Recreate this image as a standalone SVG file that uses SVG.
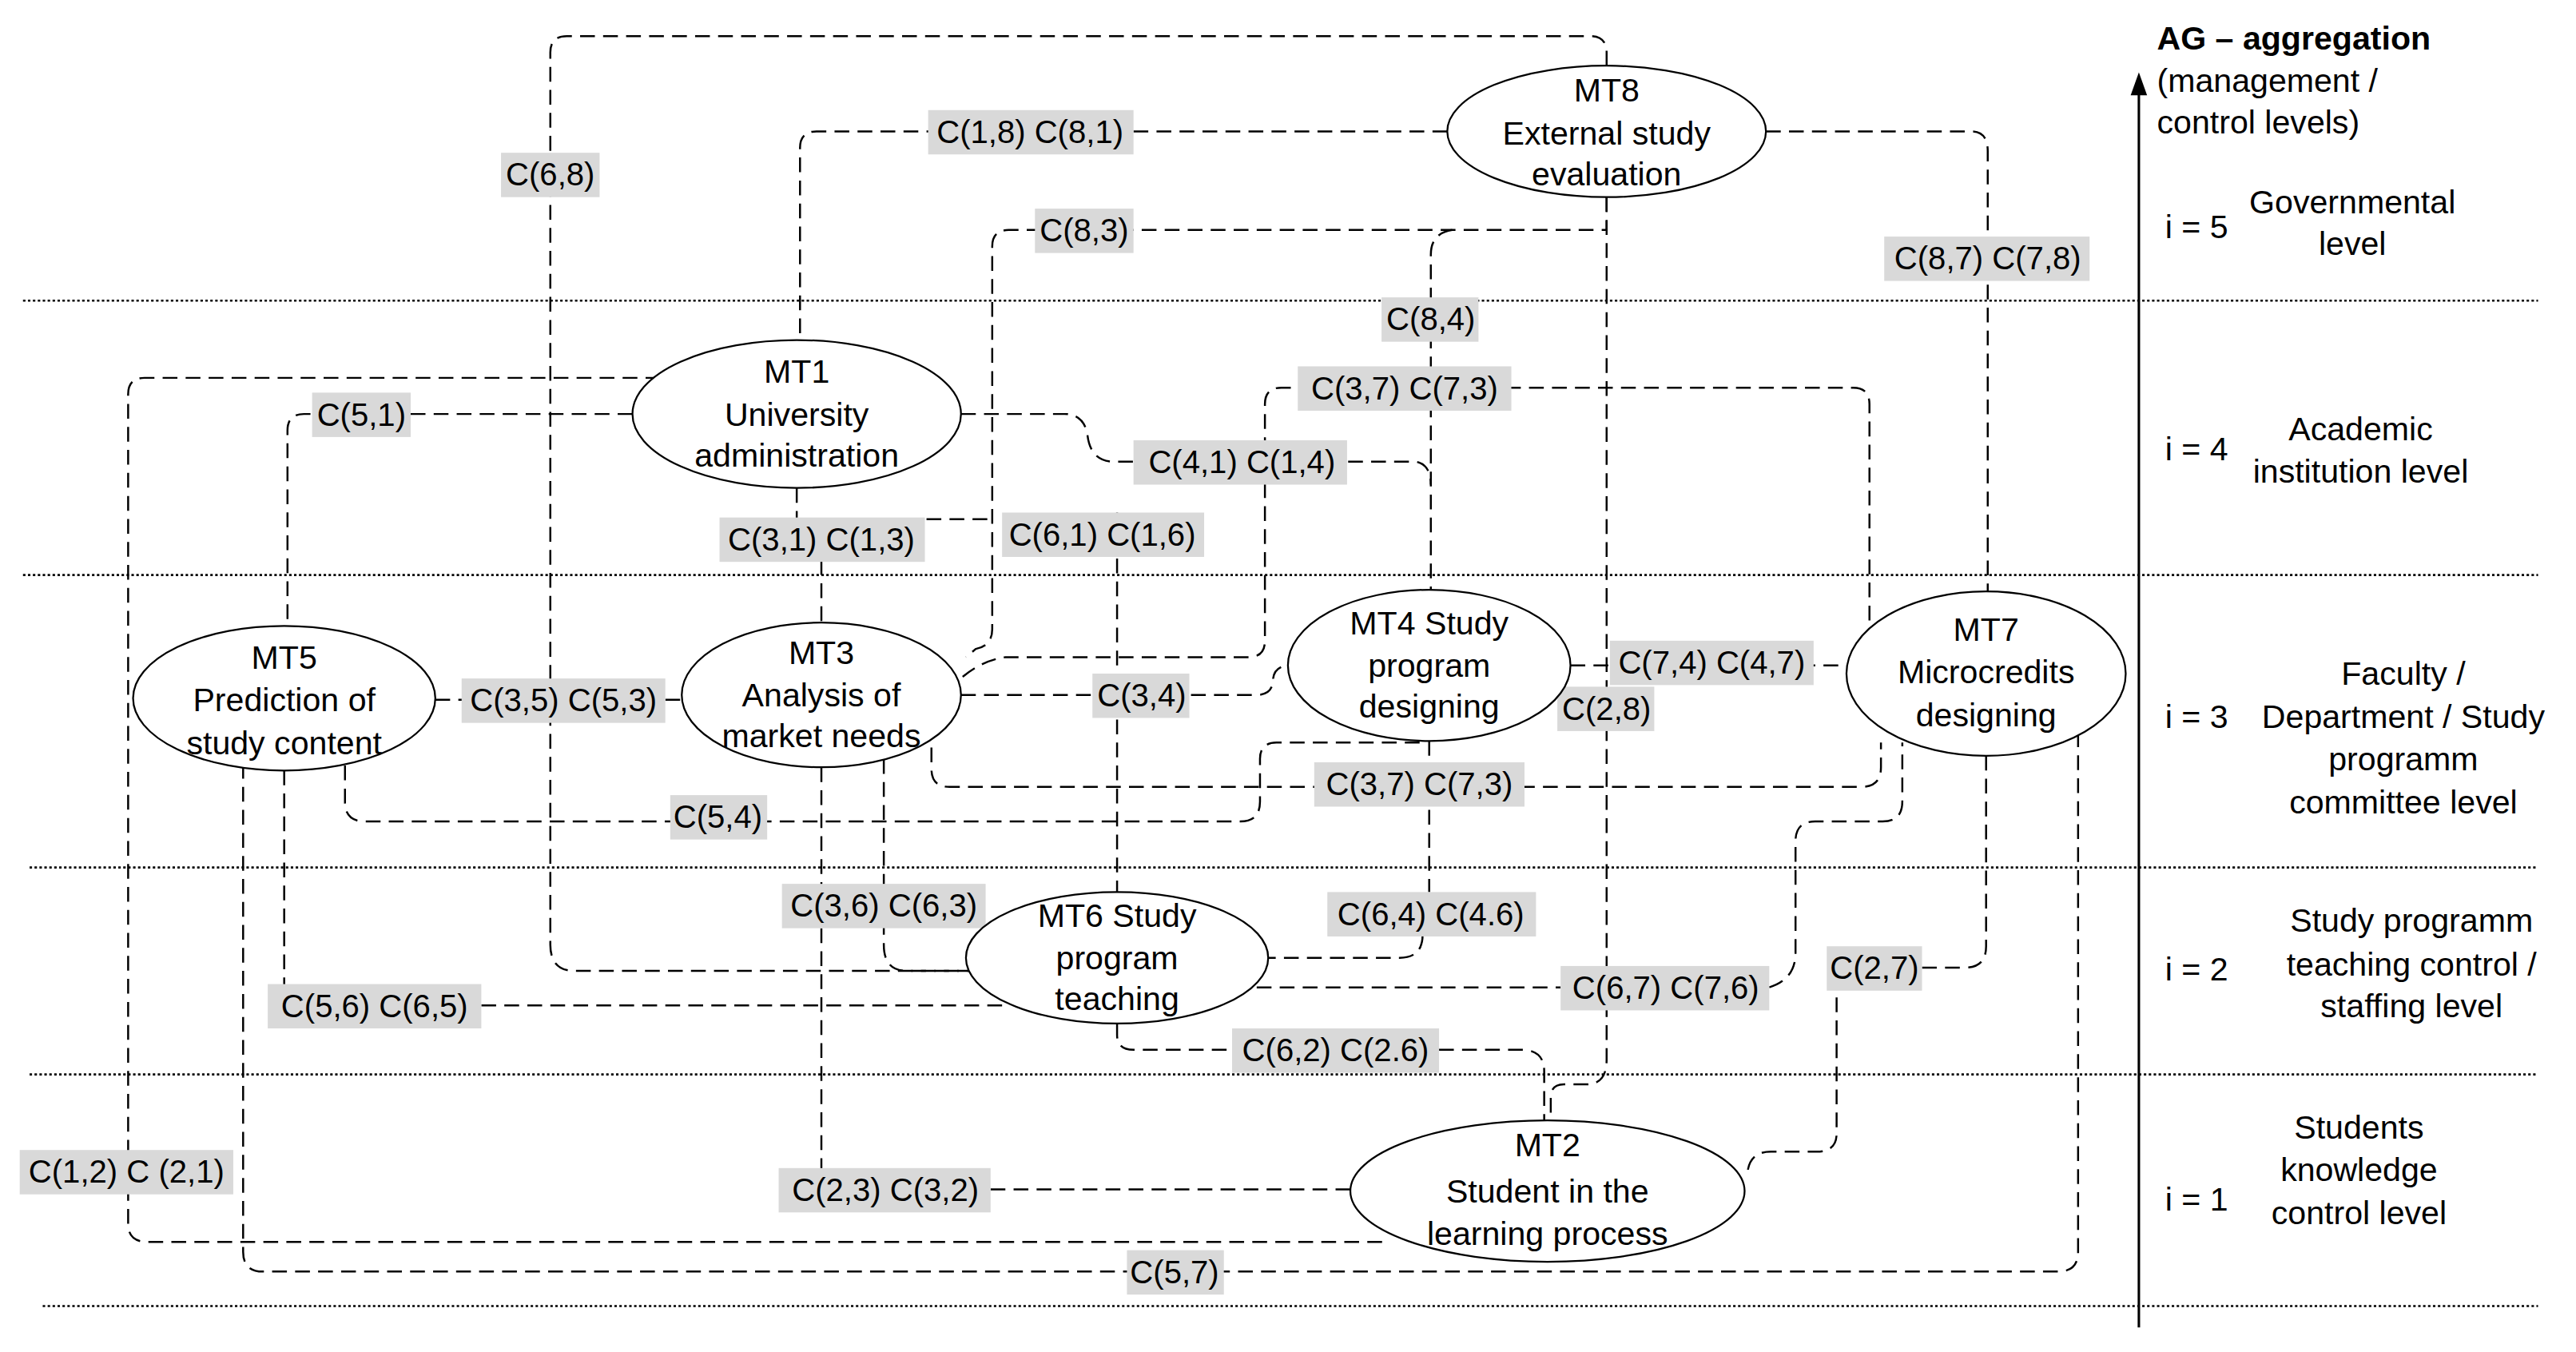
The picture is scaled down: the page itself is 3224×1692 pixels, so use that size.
<svg xmlns="http://www.w3.org/2000/svg" width="3224" height="1692" viewBox="0 0 3224 1692">
<style>
text{font-family:"Liberation Sans Narrow","Liberation Sans",Arial,sans-serif;font-size:20px;fill:#000;text-anchor:middle}
.l{font-size:19.5px}
.bg{fill:#d9d9d9}
.e{fill:#fff;stroke:#000;stroke-width:1.1}
.c{fill:none;stroke:#000;stroke-width:1.2;stroke-dasharray:9 5}
.lev{fill:none;stroke:#000;stroke-width:1.3;stroke-dasharray:1.5 1.5}
.st{text-anchor:start}
</style>
<defs><marker id="ar" viewBox="0 0 10 10" refX="5" refY="0" markerWidth="10" markerHeight="12" orient="auto-start-reverse" markerUnits="userSpaceOnUse"><path d="M0,0 L5,-14 L10,0 Z" transform="translate(0,10)"/></marker></defs>
<rect width="3224" height="1692" fill="#fff"/>
<g transform="scale(2.056)">
<g id="levels">
<path class="lev" d="M14,183H1545M14,350H1545M18,528H1545M18,654H1545M26,795H1545"/>
<line x1="1302" y1="56" x2="1302" y2="808" stroke="#000" stroke-width="1.5"/>
<path d="M1302,44L1297,58L1307,58Z"/>
<text class="st" x="1313" y="30" style="font-weight:bold">AG – aggregation</text>
<text class="st" x="1313" y="56">(management /</text>
<text class="st" x="1313" y="81">control levels)</text>
<text class="st" x="1318" y="145">i = 5</text>
<text x="1432" y="130">Governmental</text><text x="1432" y="155">level</text>
<text class="st" x="1318" y="280">i = 4</text>
<text x="1437" y="268">Academic</text><text x="1437" y="294">institution level</text>
<text class="st" x="1318" y="443">i = 3</text>
<text x="1463" y="417">Faculty /</text><text x="1463" y="443">Department / Study</text><text x="1463" y="469">programm</text><text x="1463" y="495">committee level</text>
<text class="st" x="1318" y="597">i = 2</text>
<text x="1468" y="567">Study programm</text><text x="1468" y="594">teaching control /</text><text x="1468" y="619">staffing level</text>
<text class="st" x="1318" y="737">i = 1</text>
<text x="1436" y="693">Students</text><text x="1436" y="719">knowledge</text><text x="1436" y="745">control level</text>
</g>
<g id="connectors">
<path class="c" d="M978,40V32Q978,22 968,22H345Q335,22 335,32V575Q335,591 350,591H592"/>
<path class="c" d="M881,80H497Q487,80 487,90V207"/>
<path class="c" d="M978,120V140H614Q604,140 604,150V383Q604,393 594,395L588,400"/>
<path class="c" d="M884,140Q871,142 871,155V359"/>
<path class="c" d="M1075,80H1200Q1210,80 1210,92V360"/>
<path class="c" d="M978,120V645Q978,660 966,660H952Q944,660 944,668V682"/>
<path class="c" d="M586,412Q598,402 612,400H760Q770,400 770,390V246Q770,236 780,236H1128Q1138,236 1138,246V385"/>
<path class="c" d="M385,252H185Q175,252 175,262V381"/>
<path class="c" d="M402,230H88Q78,230 78,240V745Q78,756 90,756H842"/>
<path class="c" d="M585,252H648Q660,252 662,265Q664,281 678,281H862Q871,283 871,295"/>
<path class="c" d="M485,297V316H604"/>
<path class="c" d="M500,341V379"/>
<path class="c" d="M680,312V543"/>
<path class="c" d="M265,426H415"/>
<path class="c" d="M585,423H765Q775,423 775,413Q776,405 786,405"/>
<path class="c" d="M956,405H1124"/>
<path class="c" d="M567,455V468Q567,479 578,479H1133Q1145,479 1145,467V452"/>
<path class="c" d="M210,466V488Q210,500 222,500H755Q767,500 767,488V462Q767,452 777,452H868"/>
<path class="c" d="M538,462V575Q538,591 552,591H592"/>
<path class="c" d="M500,467V712"/>
<path class="c" d="M603,724H822"/>
<path class="c" d="M173,469V600Q173,612 180,612"/>
<path class="c" d="M293,612H615"/>
<path class="c" d="M148,465V762Q148,774 160,774H1253Q1265,774 1265,762V448"/>
<path class="c" d="M870,451V543"/>
<path class="c" d="M866,569Q866,583 852,583H772"/>
<path class="c" d="M765,601H950"/>
<path class="c" d="M1077,601Q1093,596 1093,580V512Q1093,500 1105,500H1146Q1158,500 1158,488V452"/>
<path class="c" d="M1064,712Q1066,701 1078,701H1106Q1118,701 1118,690V603"/>
<path class="c" d="M1170,589H1196Q1209,589 1209,576V460"/>
<path class="c" d="M680,623V630Q680,639 690,639H750"/>
<path class="c" d="M876,639H928Q940,640 940,652V682"/>
</g>
<g id="labels">
<rect class="bg" x="305" y="93" width="60" height="27"/><text class="l" x="335" y="113">C(6,8)</text>
<rect class="bg" x="565" y="67" width="125" height="27"/><text class="l" x="627" y="87">C(1,8) C(8,1)</text>
<rect class="bg" x="630" y="127" width="60" height="27"/><text class="l" x="660" y="147">C(8,3)</text>
<rect class="bg" x="1147" y="144" width="125" height="27"/><text class="l" x="1210" y="164">C(8,7) C(7,8)</text>
<rect class="bg" x="841" y="181" width="59" height="27"/><text class="l" x="871" y="201">C(8,4)</text>
<rect class="bg" x="790" y="223" width="130" height="27"/><text class="l" x="855" y="243">C(3,7)  C(7,3)</text>
<rect class="bg" x="190" y="239" width="60" height="27"/><text class="l" x="220" y="259">C(5,1)</text>
<rect class="bg" x="690" y="268" width="130" height="27"/><text class="l" x="756" y="288">C(4,1) C(1,4)</text>
<rect class="bg" x="438" y="315" width="125" height="27"/><text class="l" x="500" y="335">C(3,1) C(1,3)</text>
<rect class="bg" x="610" y="312" width="123" height="27"/><text class="l" x="671" y="332">C(6,1) C(1,6)</text>
<rect class="bg" x="281" y="413" width="124" height="27"/><text class="l" x="343" y="433">C(3,5) C(5,3)</text>
<rect class="bg" x="665" y="410" width="59" height="27"/><text class="l" x="695" y="430">C(3,4)</text>
<rect class="bg" x="980" y="390" width="124" height="27"/><text class="l" x="1042" y="410">C(7,4) C(4,7)</text>
<rect class="bg" x="948" y="418" width="59" height="27"/><text class="l" x="978" y="438">C(2,8)</text>
<rect class="bg" x="800" y="464" width="128" height="27"/><text class="l" x="864" y="484">C(3,7) C(7,3)</text>
<rect class="bg" x="408" y="484" width="59" height="27"/><text class="l" x="437" y="504">C(5,4)</text>
<rect class="bg" x="476" y="538" width="124" height="27"/><text class="l" x="538" y="558">C(3,6) C(6,3)</text>
<rect class="bg" x="808" y="543" width="127" height="27"/><text class="l" x="871" y="563">C(6,4) C(4.6)</text>
<rect class="bg" x="163" y="599" width="130" height="27"/><text class="l" x="228" y="619">C(5,6)  C(6,5)</text>
<rect class="bg" x="950" y="588" width="127" height="27"/><text class="l" x="1014" y="608">C(6,7) C(7,6)</text>
<rect class="bg" x="1112" y="576" width="58" height="27"/><text class="l" x="1141" y="596">C(2,7)</text>
<rect class="bg" x="750" y="626" width="126" height="27"/><text class="l" x="813" y="646">C(6,2) C(2.6)</text>
<rect class="bg" x="12" y="700" width="130" height="27"/><text class="l" x="77" y="720">C(1,2) C (2,1)</text>
<rect class="bg" x="474" y="711" width="129" height="27"/><text class="l" x="539" y="731">C(2,3)  C(3,2)</text>
<rect class="bg" x="686" y="761" width="59" height="27"/><text class="l" x="715" y="781">C(5,7)</text>
</g>
<g id="MT8"><ellipse class="e" cx="978" cy="80" rx="97" ry="40"/><text x="978" y="62">MT8</text><text x="978" y="88">External study</text><text x="978" y="113">evaluation</text></g>
<g id="MT1"><ellipse class="e" cx="485" cy="252" rx="100" ry="45"/><text x="485" y="233">MT1</text><text x="485" y="259">University</text><text x="485" y="284">administration</text></g>
<g id="MT5"><ellipse class="e" cx="173" cy="425" rx="92" ry="44"/><text x="173" y="407">MT5</text><text x="173" y="433">Prediction of</text><text x="173" y="459">study content</text></g>
<g id="MT3"><ellipse class="e" cx="500" cy="423" rx="85" ry="44"/><text x="500" y="404">MT3</text><text x="500" y="430">Analysis of</text><text x="500" y="455">market needs</text></g>
<g id="MT4"><ellipse class="e" cx="870" cy="405" rx="86" ry="46"/><text x="870" y="386">MT4 Study</text><text x="870" y="412">program</text><text x="870" y="437">designing</text></g>
<g id="MT7"><ellipse class="e" cx="1209" cy="410" rx="85" ry="50"/><text x="1209" y="390">MT7</text><text x="1209" y="416">Microcredits</text><text x="1209" y="442">designing</text></g>
<g id="MT6"><ellipse class="e" cx="680" cy="583" rx="92" ry="40"/><text x="680" y="564">MT6 Study</text><text x="680" y="590">program</text><text x="680" y="615">teaching</text></g>
<g id="MT2"><ellipse class="e" cx="942" cy="725" rx="120" ry="43"/><text x="942" y="704">MT2</text><text x="942" y="732">Student in the</text><text x="942" y="758">learning process</text></g>
</g>
</svg>
